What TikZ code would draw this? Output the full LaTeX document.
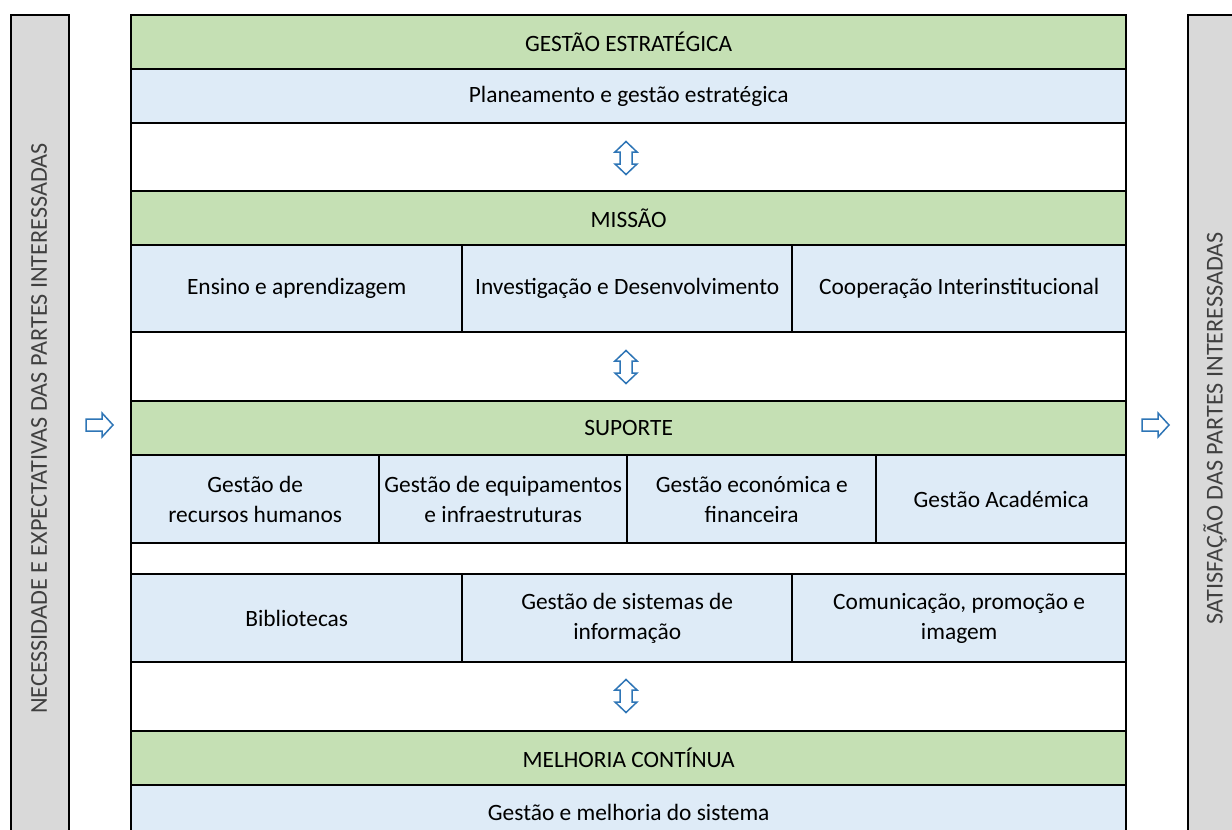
\documentclass[tikz,border=0pt]{standalone}
\usepackage{fontspec}
\setmainfont{Carlito}
\definecolor{cgreen}{HTML}{C5E0B4}
\definecolor{cblue}{HTML}{DEEBF7}
\definecolor{cgray}{HTML}{D9D9D9}
\definecolor{carrow}{HTML}{2E75B6}
\definecolor{ctext}{HTML}{404040}
\begin{document}
\begin{tikzpicture}[x=1pt,y=-1pt,
  cell/.style={draw=black,line width=2.4pt,anchor=north west,inner sep=0pt,
    align=center,font=\fontsize{23.4}{30}\selectfont,text=black},
  greencell/.style={cell,fill=cgreen},
  bluecell/.style={cell,fill=cblue},
  whitecell/.style={cell,fill=white},
  sidebar/.style={draw=black,line width=2.4pt,fill=cgray,anchor=north west,inner sep=0pt},
  sidetext/.style={rotate=90,font=\fontsize{24.2}{28}\selectfont,text=ctext},
  barrow/.style={draw=carrow,line width=1.5pt,fill=white,line join=miter}]
\useasboundingbox (0,0) rectangle (1232,830);
\clip (0,0) rectangle (1232,830);
\fill[white] (0,0) rectangle (1232,830);

% side bars
\node[sidebar,minimum width=58pt,minimum height=860pt] (lbar) at (10,14) {};
\node[sidebar,minimum width=80pt,minimum height=860pt] (rbar) at (1187,14) {};
\node[sidetext] (ltext) at (39,428.5) {NECESSIDADE E EXPECTATIVAS DAS PARTES INTERESSADAS};
\node[sidetext] (rtext) at (1215,428) {SATISFAÇÃO DAS PARTES INTERESSADAS};

% rows
\node[greencell,minimum width=995pt,minimum height=54pt] (ge) at (130,14) {GESTÃO ESTRATÉGICA};
\node[bluecell,minimum width=995pt,minimum height=54pt] (pg) at (130,68) {Planeamento e gestão estratégica};
\node[whitecell,minimum width=995pt,minimum height=68pt] (w1) at (130,122) {};
\node[greencell,minimum width=995pt,minimum height=54pt] (mi) at (130,190) {MISSÃO};
\node[bluecell,minimum width=331pt,minimum height=87pt] (m1) at (130,244) {Ensino e aprendizagem};
\node[bluecell,minimum width=330pt,minimum height=87pt] (m2) at (461,244) {Investigação e Desenvolvimento};
\node[bluecell,minimum width=334pt,minimum height=87pt] (m3) at (791,244) {Cooperação Interinstitucional};
\node[whitecell,minimum width=995pt,minimum height=69pt] (w2) at (130,331) {};
\node[greencell,minimum width=995pt,minimum height=54pt] (su) at (130,400) {SUPORTE};
\node[bluecell,minimum width=248pt,minimum height=88pt] (s1) at (130,454) {Gestão de\\recursos humanos};
\node[bluecell,minimum width=248pt,minimum height=88pt] (s2) at (378,454) {Gestão de equipamentos\\e infraestruturas};
\node[bluecell,minimum width=249pt,minimum height=88pt] (s3) at (626,454) {Gestão económica e\\financeira};
\node[bluecell,minimum width=250pt,minimum height=88pt] (s4) at (875,454) {Gestão Académica};
\node[whitecell,minimum width=995pt,minimum height=31pt] (w3) at (130,542) {};
\node[bluecell,minimum width=331pt,minimum height=88pt] (t1) at (130,573) {Bibliotecas};
\node[bluecell,minimum width=330pt,minimum height=88pt] (t2) at (461,573) {Gestão de sistemas de\\informação};
\node[bluecell,minimum width=334pt,minimum height=88pt] (t3) at (791,573) {Comunicação, promoção e\\imagem};
\node[whitecell,minimum width=995pt,minimum height=69pt] (w4) at (130,661) {};
\node[greencell,minimum width=995pt,minimum height=54pt] (me) at (130,730) {MELHORIA CONTÍNUA};
\node[bluecell,minimum width=995pt,minimum height=54pt] (gm) at (130,784) {Gestão e melhoria do sistema};

% right block arrows
\coordinate (la) at (99,425);
\coordinate (ra) at (1155,425);
\foreach \c in {la,ra}{
  \begin{scope}[shift={(\c)}]
    \draw[barrow] (-13,-6) -- (3,-6) -- (3,-12) -- (14,0) -- (3,12) -- (3,6) -- (-13,6) -- cycle;
  \end{scope}
}
% up-down block arrows
\coordinate (ud1) at (626,158);
\coordinate (ud2) at (626,367);
\coordinate (ud3) at (626,696);
\foreach \c in {ud1,ud2,ud3}{
  \begin{scope}[shift={(\c)}]
    \draw[barrow] (0,-16.5) -- (11,-6) -- (6,-6) -- (6,6) -- (11,6) -- (0,16.5)
      -- (-11,6) -- (-6,6) -- (-6,-6) -- (-11,-6) -- cycle;
  \end{scope}
}
\end{tikzpicture}
\end{document}
